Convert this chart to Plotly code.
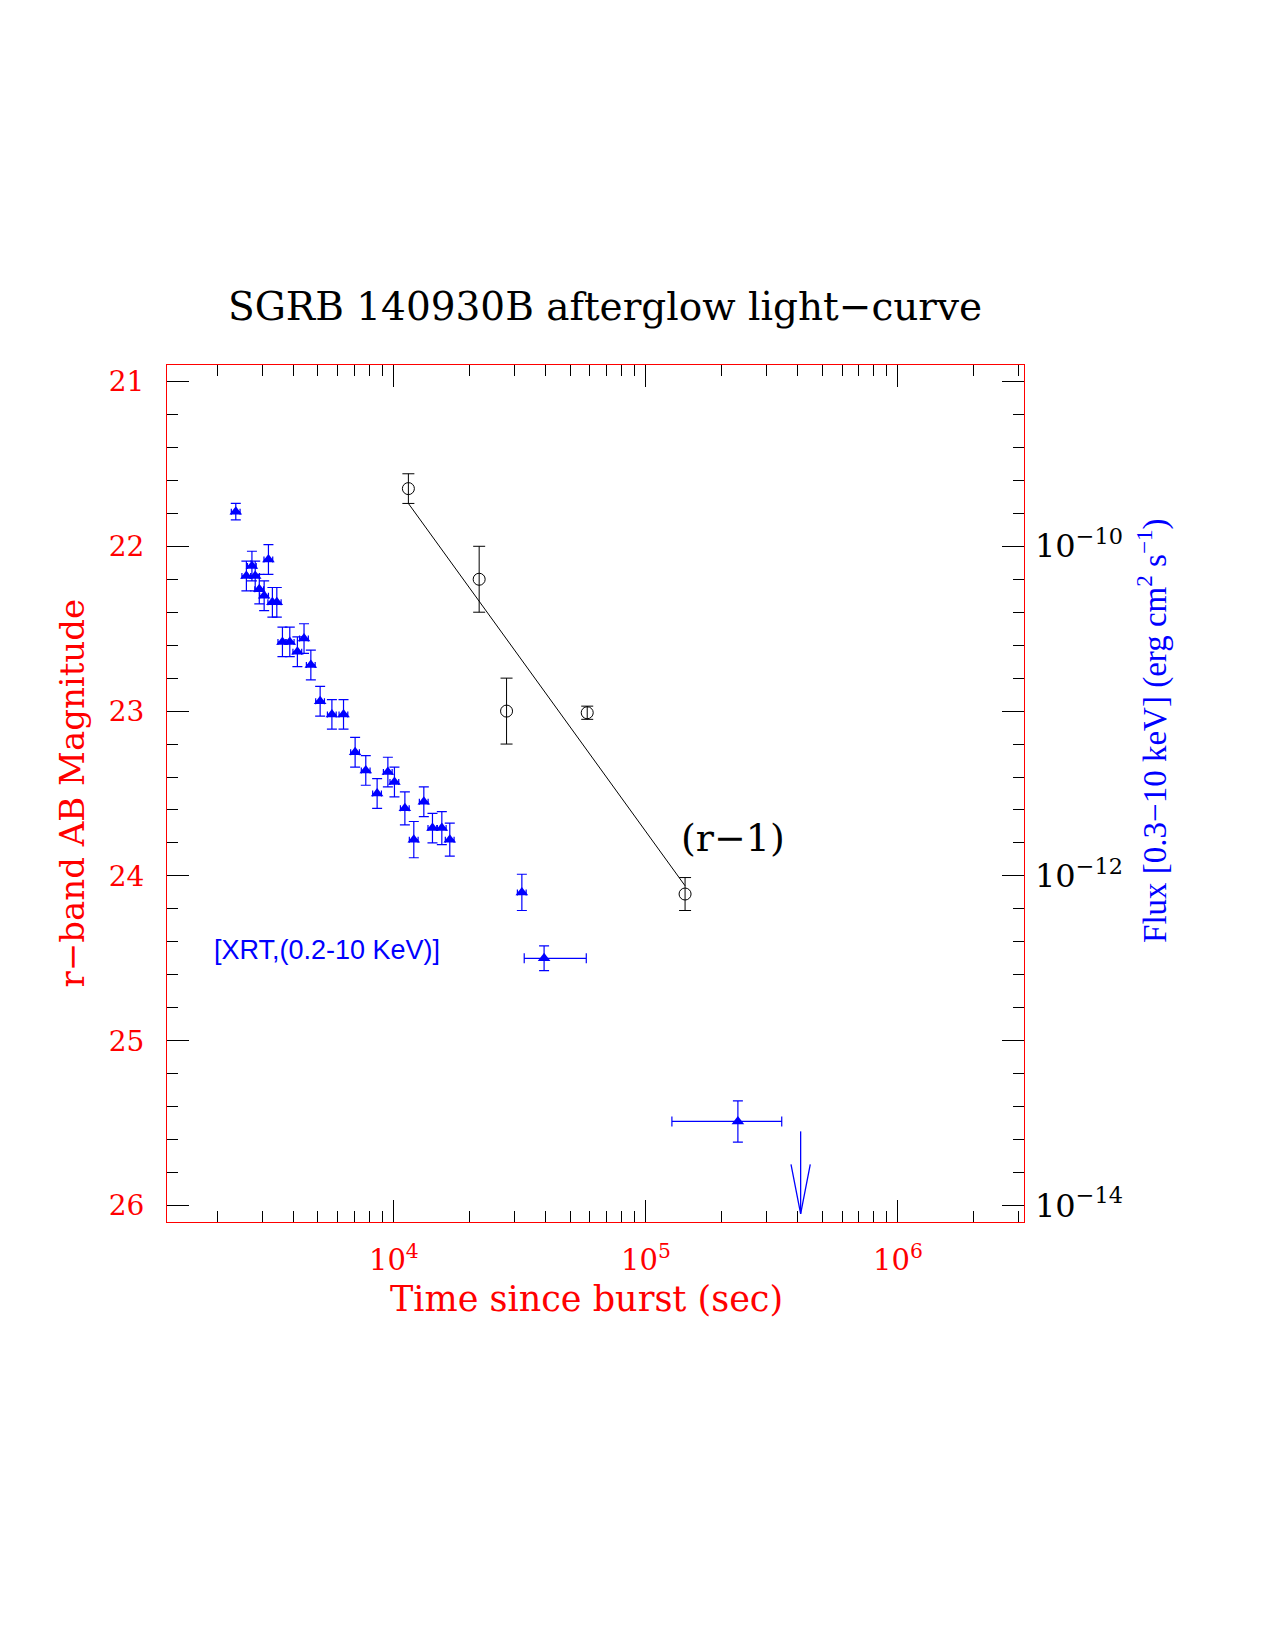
import numpy as np
import plotly.graph_objects as go

# ---------------- data ----------------
# Optical r-band (black open circles), AB magnitude
opt_time = [11420, 21800, 28000, 58500, 143000]
opt_mag = [21.65, 22.20, 23.00, 23.01, 24.11]
opt_err = [0.09, 0.20, 0.20, 0.04, 0.10]

# Power-law fit to optical (line), endpoints
fit_time = [11420, 143000]
fit_mag = [21.74, 24.06]

# XRT (0.3-10 keV) flux, log10(erg cm^-2 s^-1)
xrt_time = [2360, 2600, 2735, 2818, 2925, 3058, 3180, 3297, 3433, 3614,
            3865, 4143, 4402, 4685, 5100, 5678, 6314, 7020, 7738, 8583,
            9468, 10055, 11060, 12000, 13150, 14230, 15500, 16670, 32200]
xrt_logflux = [-9.79, -10.18, -10.12, -10.18, -10.26, -10.30, -10.08, -10.34, -10.34, -10.58,
               -10.58, -10.64, -10.56, -10.72, -10.94, -11.02, -11.02, -11.25, -11.36, -11.50,
               -11.37, -11.43, -11.59, -11.78, -11.55, -11.71, -11.71, -11.78, -12.10]
xrt_err = [0.05, 0.09, 0.09, 0.09, 0.09, 0.09, 0.09, 0.09, 0.09, 0.09,
           0.09, 0.09, 0.09, 0.09, 0.09, 0.09, 0.09, 0.09, 0.09, 0.09,
           0.09, 0.09, 0.10, 0.11, 0.09, 0.09, 0.10, 0.10, 0.11]

# late XRT points with wide time bins
xrt_late_time = [39450, 231700]
xrt_late_tlo = [32900, 126800]
xrt_late_thi = [58000, 345800]
xrt_late_logflux = [-12.50, -13.49]
xrt_late_err = [0.075, 0.125]

# XRT upper limit
ul_time = 411000
ul_logflux = -14.05

# axis tick labels
x_tickvals = [1e4, 1e5, 1e6]
x_ticktext = ["10<sup>4</sup>", "10<sup>5</sup>", "10<sup>6</sup>"]
mag_tickvals = [21, 22, 23, 24, 25, 26]
flux_tickvals = [-14, -12, -10]
flux_ticktext = ["10<sup>\u221214</sup>", "10<sup>\u221212</sup>", "10<sup>\u221210</sup>"]

# ---------------- figure ----------------
SERIF = "DejaVu Serif"
fig = go.Figure()

# optical fit line
fig.add_trace(go.Scatter(x=fit_time, y=fit_mag, mode="lines",
                         line=dict(color="black", width=1), showlegend=False))
# optical points
fig.add_trace(go.Scatter(
    x=opt_time, y=opt_mag, mode="markers",
    marker=dict(symbol="circle-open", size=12, color="black", line=dict(width=1, color="black")),
    error_y=dict(type="data", array=opt_err, visible=True, color="black", thickness=1, width=6),
    showlegend=False))

# XRT points
fig.add_trace(go.Scatter(
    x=xrt_time, y=xrt_logflux, mode="markers", yaxis="y2",
    marker=dict(symbol="triangle-up", size=11, color="blue"),
    error_y=dict(type="data", array=xrt_err, visible=True, color="blue", thickness=1.2, width=5),
    error_x=dict(type="percent", value=4, visible=True, color="blue", thickness=1.2, width=3),
    showlegend=False))

late_plus = [hi - t for hi, t in zip(xrt_late_thi, xrt_late_time)]
late_minus = [t - lo for lo, t in zip(xrt_late_tlo, xrt_late_time)]
fig.add_trace(go.Scatter(
    x=xrt_late_time, y=xrt_late_logflux, mode="markers", yaxis="y2",
    marker=dict(symbol="triangle-up", size=11, color="blue"),
    error_y=dict(type="data", array=xrt_late_err, visible=True, color="blue", thickness=1.2, width=5),
    error_x=dict(type="data", array=late_plus, arrayminus=late_minus, visible=True,
                 color="blue", thickness=1.2, width=5),
    showlegend=False))

# upper-limit arrow (shaft + open head), derived from the limit value
shaft_len = 0.5
head_len = 0.3
head_w = 1.092
fig.add_trace(go.Scatter(
    x=[ul_time, ul_time, None, ul_time / head_w, ul_time, ul_time * head_w],
    y=[ul_logflux + shaft_len, ul_logflux, None, ul_logflux + head_len, ul_logflux, ul_logflux + head_len],
    mode="lines", yaxis="y2", line=dict(color="blue", width=1.3), showlegend=False))

minor_x = [m * 10 ** d for d in range(3, 7) for m in range(2, 10)]
minor_x = [v for v in minor_x if 10 ** 3.1 <= v <= 10 ** 6.5]

fig.update_layout(
    width=1275, height=1650,
    margin=dict(l=167, r=251, t=365, b=428),
    paper_bgcolor="white", plot_bgcolor="white",
    xaxis=dict(type="log", range=[3.1, 6.5],
               tickmode="array", tickvals=x_tickvals, ticktext=x_ticktext,
               ticks="inside", ticklen=22, tickwidth=1, tickcolor="black",
               minor=dict(tickmode="array", tickvals=minor_x, ticks="inside", ticklen=11,
                          tickwidth=1, tickcolor="black", showgrid=False),
               showline=True, linecolor="red", linewidth=1, mirror="ticks",
               showgrid=False, zeroline=False,
               tickfont=dict(family=SERIF, size=29, color="red"),
               ticklabelstandoff=12),
    yaxis=dict(range=[26.1, 20.9],
               tickmode="array", tickvals=mag_tickvals,
               ticks="inside", ticklen=22, tickwidth=1, tickcolor="black",
               minor=dict(dtick=0.2, tick0=21, ticks="inside", ticklen=11,
                          tickwidth=1, tickcolor="black", showgrid=False),
               showline=True, linecolor="red", linewidth=1, mirror="ticks",
               showgrid=False, zeroline=False,
               tickfont=dict(family=SERIF, size=28, color="red"),
               ticklabelstandoff=16),
    yaxis2=dict(range=[-14.1, -8.9], overlaying="y", side="right",
                tickmode="array", tickvals=flux_tickvals, ticktext=flux_ticktext,
                ticks="", showline=False, showgrid=False, zeroline=False,
                tickfont=dict(family=SERIF, size=32, color="black"),
                ticklabelstandoff=10),
    showlegend=False,
)

annots = [
    dict(text="SGRB 140930B afterglow light\u2212curve", x=0.511, y=1.068,
         font=dict(family=SERIF, size=39, color="black")),
    dict(text="Time since burst (sec)", x=0.490, y=-0.090,
         font=dict(family=SERIF, size=35, color="red")),
    dict(text="r\u2212band AB Magnitude", x=-0.1114, y=0.5006, textangle=-90,
         font=dict(family=SERIF, size=34, color="red")),
    dict(text="Flux [0.3\u221210 keV] (erg cm<sup>2</sup> s<sup>\u22121</sup>)", x=1.1505, y=0.573,
         textangle=-90, font=dict(family="Liberation Serif", size=33, color="blue")),
    dict(text="[XRT,(0.2-10 KeV)]", x=0.187, y=(1222 - 950) / 857,
         font=dict(family="Liberation Sans", size=27, color="blue")),
    dict(text="(r\u22121)", x=(733 - 167) / 857, y=(1222 - 838) / 857,
         font=dict(family=SERIF, size=38, color="black")),
]
for a in annots:
    a.update(xref="paper", yref="paper", showarrow=False, xanchor="center", yanchor="middle")
    fig.add_annotation(**a)

fig.write_html("out.html")
